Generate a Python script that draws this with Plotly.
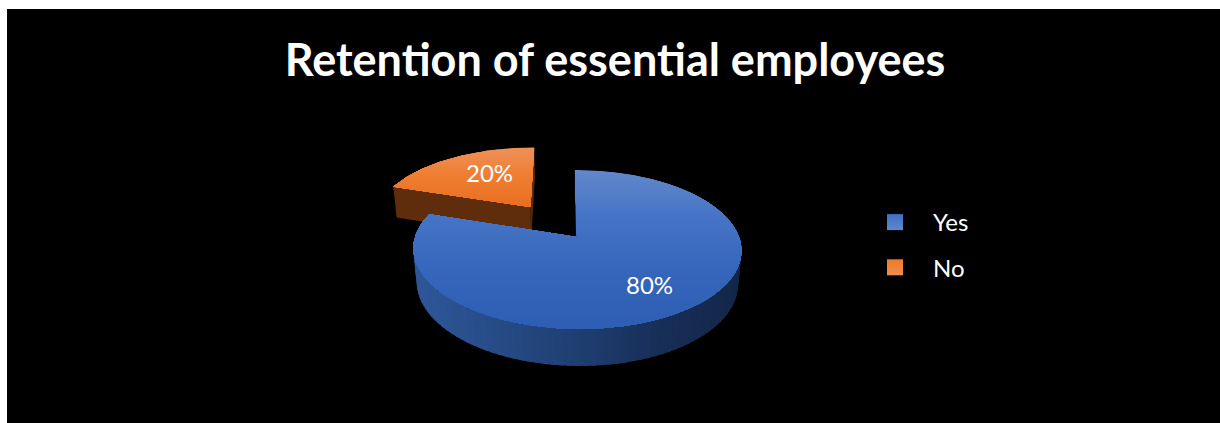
import math
import plotly.graph_objects as go

# Chart content
title = "Retention of essential employees"
categories = ["Yes", "No"]
shares = [80, 20]
pulls = [0.0, 0.51]

# Perspective model of the tilted pie, in page-like axis units
CX, CY = 577.0, 237.0
R, K, P = 162.0, 77.5, 0.157
SKEW = -2.5
DEPTH, Q = 33.8, 0.02

TOP_STOPS = {
    "Yes": [(170, "#6187cb"), (215, "#4674c6"), (270, "#3566bb"), (330, "#2e5eb3")],
    "No": [(147, "#ef9058"), (172, "#ef7f34"), (210, "#e86c1c")],
}
WALL_STOPS = {
    "Yes": [(415, "#2f5798"), (500, "#264b86"), (580, "#1f3f72"), (660, "#182f58"), (740, "#14274a")],
    "No": [(393, "#5f2d0b"), (532, "#572807")],
}
SWATCH = {"Yes": ("#6187cb", "#3f6fc4"), "No": ("#f08d50", "#ee7a2a")}


def rgb(h):
    return tuple(int(h[i:i + 2], 16) for i in (1, 3, 5))


def ramp(stops, t):
    if t <= stops[0][0]:
        return stops[0][1]
    for (a, ca), (b, cb) in zip(stops, stops[1:]):
        if t <= b:
            f = (t - a) / (b - a)
            mix = [round(u + (v - u) * f) for u, v in zip(rgb(ca), rgb(cb))]
            return "#%02x%02x%02x" % tuple(mix)
    return stops[-1][1]


def project(px, py, z=0.0):
    s = 1.0 / (1.0 + P * py + Q * z)
    return CX + (R * px + SKEW * py) * s, CY + (-K * py + DEPTH * z) * s


def rim(a_deg, pull_dir, pull, z=0.0):
    a = math.radians(a_deg)
    ox, oy = pull * math.sin(pull_dir), pull * math.cos(pull_dir)
    return project(ox + math.sin(a), oy + math.cos(a), z)


def apex(pull_dir, pull, z=0.0):
    return project(pull * math.sin(pull_dir), pull * math.cos(pull_dir), z)


def clip_below(poly, y0):
    out = []
    for (x1, y1), (x2, y2) in zip(poly, poly[1:] + poly[:1]):
        if y1 >= y0:
            out.append((x1, y1))
        if (y1 >= y0) != (y2 >= y0):
            f = (y0 - y1) / (y2 - y1)
            out.append((x1 + (x2 - x1) * f, y0))
    return out


def patch(fig, poly, color):
    fig.add_trace(go.Scatter(
        x=[p[0] for p in poly] + [poly[0][0]],
        y=[p[1] for p in poly] + [poly[0][1]],
        mode="lines", fill="toself", fillcolor=color,
        line=dict(width=0), hoverinfo="skip", showlegend=False,
    ))


def draw_slice(fig, name, start, sweep, pull):
    end = start + sweep
    mid = math.radians(start + sweep / 2)

    # Cut faces and outer wall, kept underneath the top face
    tip, tip_low = apex(mid, pull), apex(mid, pull, 1)
    for edge in (start, end):
        patch(fig, [tip, rim(edge, mid, pull), rim(edge, mid, pull, 1), tip_low],
              ramp(WALL_STOPS[name], rim(edge, mid, pull)[0]))
    a = max(start, 85.0)
    stop = min(end, 275.0)
    while a < stop:
        b = min(a + 2.5, stop)
        c = min(b + 1.5, stop)
        quad = [rim(a, mid, pull), rim(c, mid, pull), rim(c, mid, pull, 1), rim(a, mid, pull, 1)]
        patch(fig, quad, ramp(WALL_STOPS[name], quad[0][0]))
        a = b

    # Top face painted in overlapping bands for the vertical shading
    n = max(2, int(sweep / 1.5))
    top = [tip] + [rim(start + sweep * i / n, mid, pull) for i in range(n + 1)]
    y0 = min(p[1] for p in top)
    y1 = max(p[1] for p in top)
    y = y0 - 1
    while y < y1:
        band = clip_below(top, y)
        if len(band) > 2:
            patch(fig, band, ramp(TOP_STOPS[name], y))
        y += 3


fig = go.Figure()

spans = []
angle = 0.0
for name, share, pull in zip(categories, shares, pulls):
    spans.append((name, angle, share * 3.6, pull))
    angle += share * 3.6

# The pulled-out slice sits behind the main one
for name, start, sweep, pull in sorted(spans, key=lambda s: -s[3]):
    draw_slice(fig, name, start, sweep, pull)

for name in categories:
    c1, c2 = SWATCH[name]
    fig.add_trace(go.Scatter(
        x=[None], y=[None], name=name, mode="markers", legendgroup=name,
        marker=dict(symbol="square", size=16, color=c2,
                    gradient=dict(type="vertical", color=c1)),
        hoverinfo="skip",
    ))

label_spots = {"Yes": (649, 284), "No": (489, 172)}
annotations = [
    dict(x=label_spots[n][0], y=label_spots[n][1], text=f"{v}%", showarrow=False,
         xref="x", yref="y", font=dict(family="Lato", size=24, color="#ffffff"))
    for n, v in zip(categories, shares)
]

fig.update_layout(
    width=1220, height=423,
    margin=dict(l=7, r=0, t=9, b=0, pad=0),
    paper_bgcolor="#ffffff", plot_bgcolor="#000000",
    title=dict(text=f"<b>{title}</b>", x=615 / 1220, xanchor="center", xref="container",
               y=1 - 60 / 423, yanchor="middle", yref="container",
               font=dict(family="Lato", size=45, color="#ffffff")),
    xaxis=dict(range=[7, 1220], visible=False, fixedrange=True),
    yaxis=dict(range=[423, 9], visible=False, fixedrange=True),
    legend=dict(x=(857 - 7) / 1213, y=1 - (200 - 9) / 414, xanchor="left", yanchor="top",
                bgcolor="rgba(0,0,0,0)", itemwidth=66, tracegroupgap=11,
                font=dict(family="Lato", size=24, color="#ffffff"),
                itemclick=False, itemdoubleclick=False),
    annotations=annotations,
)

fig.write_html("out.html", config=dict(displayModeBar=False))
